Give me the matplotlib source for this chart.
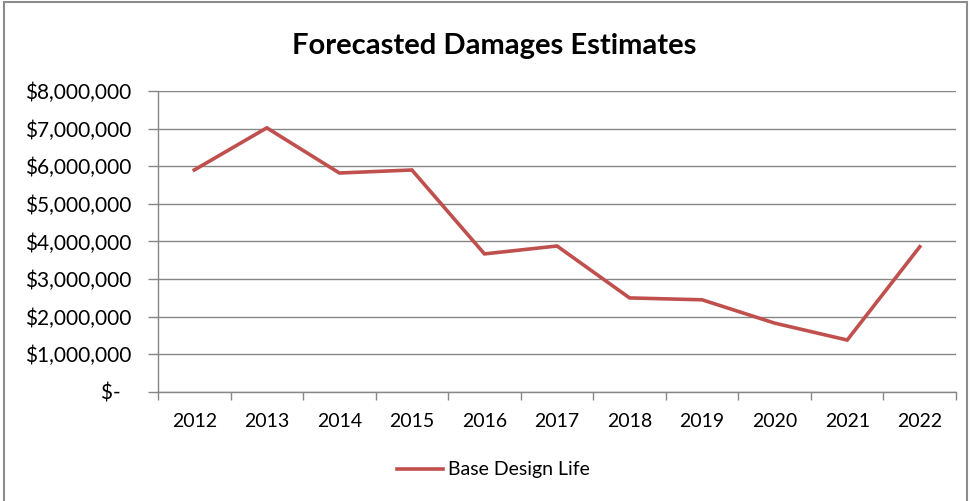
import matplotlib
matplotlib.use("Agg")
import matplotlib.pyplot as plt
from matplotlib.ticker import FuncFormatter, FixedLocator
from matplotlib.patches import Rectangle

years = ["2012", "2013", "2014", "2015", "2016", "2017", "2018", "2019", "2020", "2021", "2022"]
damages = [5.90e6, 7.02e6, 5.82e6, 5.90e6, 3.67e6, 3.88e6, 2.50e6, 2.45e6, 1.83e6, 1.38e6, 3.86e6]
series_name = "Base Design Life"
title = "Forecasted Damages Estimates"

plt.rcParams["font.family"] = ["Lato", "DejaVu Sans"]
RED = "#C0504D"
GRID = "#868686"

fig = plt.figure(figsize=(9.71, 5.01), dpi=100)
ax = fig.add_axes([0.1627, 0.2176, 0.8219, 0.6008])

x = list(range(len(years)))
ax.plot(x, damages, color=RED, lw=2.6, label=series_name, solid_joinstyle="miter")

ax.set_xlim(-0.5, len(years) - 0.5)
ax.set_ylim(0, 8e6)
ax.set_yticks([i * 1e6 for i in range(9)])

def money(v, pos):
    if v == 0:
        return "$-  "
    return "${:,.0f}".format(v)

ax.yaxis.set_major_formatter(FuncFormatter(money))
ax.set_xticks(x)
ax.set_xticklabels(years)
ax.xaxis.set_minor_locator(FixedLocator([i - 0.5 for i in range(len(years) + 1)]))
ax.tick_params(axis="x", which="major", length=0, pad=15, labelsize=14, colors="black")
ax.tick_params(axis="x", which="minor", length=6, color=GRID, width=1)
ax.tick_params(axis="y", length=7, color=GRID, width=1, pad=12.5, labelsize=15)

ax.grid(axis="y", color=GRID, lw=1)
ax.set_axisbelow(True)
for s in ["top", "right"]:
    ax.spines[s].set_visible(False)
for s in ["left", "bottom"]:
    ax.spines[s].set_color(GRID)
    ax.spines[s].set_linewidth(1)

fig.text(0.509, 0.892, title, ha="center", va="baseline", fontsize=21, fontweight="bold")

fig.legend(loc="center", bbox_to_anchor=(0.508, 0.062), frameon=False, fontsize=14,
           handlelength=2.4, handletextpad=0.25)

fig.patches.append(Rectangle((0.004, -0.01), 0.992, 1.006, transform=fig.transFigure,
                             fill=False, edgecolor="#8c8c8c", lw=1.5))

fig.savefig("out.png", dpi=100)
